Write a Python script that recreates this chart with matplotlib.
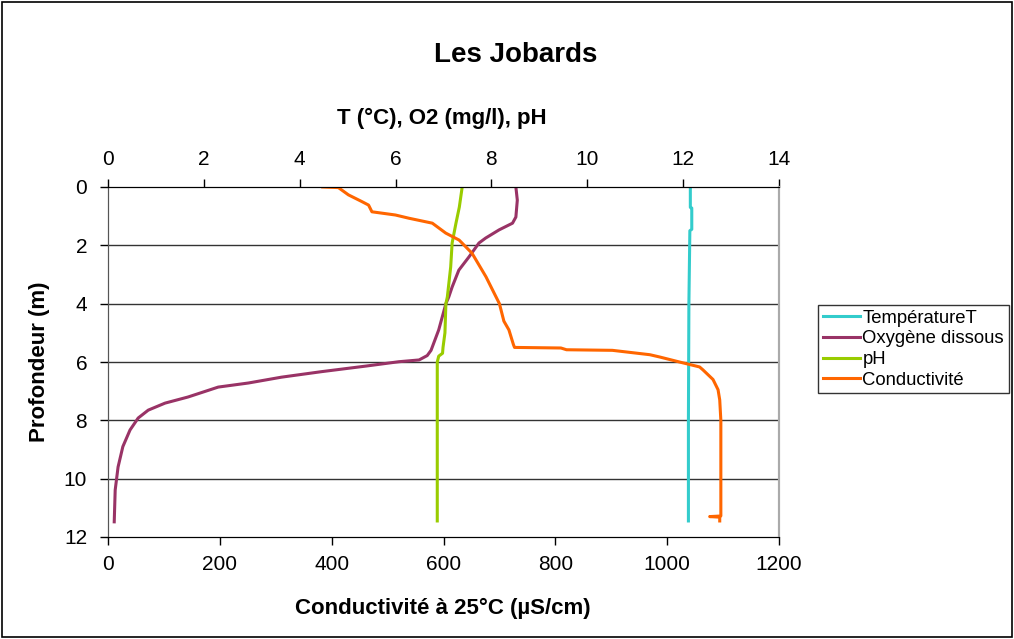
import matplotlib
matplotlib.use("Agg")
import matplotlib.pyplot as plt
from matplotlib.lines import Line2D
from matplotlib.patches import Rectangle

plt.rcParams['font.family'] = ['Liberation Sans', 'DejaVu Sans']

# ---- data ----
temp_depth = [0, 0.70, 0.72, 1.45, 1.50, 4.0, 8.0, 11.45]
temp_val = [12.15, 12.15, 12.18, 12.18, 12.14, 12.12, 12.11, 12.11]

o2_depth = [0, 0.45, 1.03, 1.24, 1.47, 1.75, 1.92, 2.4, 2.85, 3.43, 3.77, 4.0, 4.9,
            5.6, 5.78, 5.93, 5.99, 6.14, 6.33, 6.52, 6.72, 6.86, 7.2, 7.41, 7.65,
            7.92, 8.33, 8.9, 9.6, 10.39, 11.48]
o2_val = [8.51, 8.54, 8.51, 8.44, 8.16, 7.88, 7.74, 7.53, 7.32, 7.18, 7.11, 7.05, 6.9,
          6.74, 6.66, 6.49, 6.07, 5.38, 4.46, 3.62, 2.93, 2.30, 1.67, 1.19, 0.84,
          0.63, 0.46, 0.31, 0.21, 0.15, 0.13]

ph_depth = [0, 0.69, 1.24, 1.92, 2.74, 3.77, 4.0, 5.0, 5.5, 5.7, 5.8, 6.0, 8.0, 11.45]
ph_val = [7.39, 7.33, 7.26, 7.18, 7.15, 7.08, 7.05, 7.03, 6.99, 6.98, 6.90, 6.87, 6.87, 6.87]

cond_depth = [0, 0.02, 0.27, 0.5, 0.62, 0.85, 0.96, 1.07, 1.24, 1.58, 1.82, 2.27, 3.08,
              3.77, 4.0, 4.6, 4.9, 5.4, 5.5, 5.52, 5.58, 5.6, 5.75, 5.83, 6.0, 6.17,
              6.27, 6.6, 6.95, 7.3, 8.0, 11.28, 11.3, 11.32, 11.45]
cond_val = [384, 412, 430, 454, 466, 472, 514, 538, 580, 604, 628, 651, 676,
            694, 700, 708, 717, 725, 727, 810, 820, 902, 969, 987, 1022, 1058,
            1064, 1082, 1091, 1094, 1096, 1096, 1076, 1094, 1094]

series_names = ["TempératureT", "Oxygène dissous", "pH", "Conductivité"]
colors = ["#33CCCC", "#993366", "#99CC00", "#FF6600"]

top_ticks = [0, 2, 4, 6, 8, 10, 12, 14]
bottom_ticks = [0, 200, 400, 600, 800, 1000, 1200]
depth_ticks = [0, 2, 4, 6, 8, 10, 12]

W, H = 1014, 639
fig = plt.figure(figsize=(W / 100, H / 100), dpi=100)

L, R, T, B = 108, 779, 187, 537
ax = fig.add_axes([L / W, 1 - B / H, (R - L) / W, (B - T) / H])
ax2 = ax.twiny()

lw = 2.2
ax2.plot(temp_val, temp_depth, color=colors[0], lw=lw)
ax2.plot(o2_val, o2_depth, color=colors[1], lw=lw)
ax2.plot(ph_val, ph_depth, color=colors[2], lw=lw)
ax.plot(cond_val, cond_depth, color=colors[3], lw=lw)

ax.set_zorder(ax2.get_zorder() + 1)
ax.patch.set_visible(False)

ax.set_xlim(0, 1200)
ax2.set_xlim(0, 14)
ax.set_ylim(12, 0)
ax.set_xticks(bottom_ticks)
ax2.set_xticks(top_ticks)
ax.set_yticks(depth_ticks)

for a in (ax, ax2):
    a.tick_params(labelsize=15, length=6, width=1, direction='out', colors='#000000', pad=7)
ax.tick_params(axis='y', pad=9)
ax.grid(False)
for d in depth_ticks[1:-1]:
    ax2.axhline(d, color='#333333', lw=1.0, zorder=0)

for a in (ax, ax2):
    a.spines['left'].set_color('#555555')
    a.spines['right'].set_color('#aaaaaa')
    a.spines['top'].set_color('#000000')
    a.spines['bottom'].set_color('#000000')
    a.spines['right'].set_linewidth(1.5)

fig.text(516 / W, 1 - 55 / H, "Les Jobards", ha='center', va='center', fontsize=20, fontweight='bold')
fig.text(442 / W, 1 - 118 / H, "T (°C), O2 (mg/l), pH", ha='center', va='center', fontsize=16, fontweight='bold')
fig.text(443 / W, 1 - 608 / H, "Conductivité à 25°C (µS/cm)", ha='center', va='center', fontsize=16, fontweight='bold')
fig.text(40 / W, 1 - 362 / H, "Profondeur (m)", ha='center', va='center', rotation=90, fontsize=16, fontweight='bold')

handles = [Line2D([], [], color=c, lw=2.2) for c in colors]
leg = fig.legend(handles, series_names, loc='upper left',
                 bbox_to_anchor=(818 / W, 1 - 305 / H), fontsize=13.3,
                 frameon=True, fancybox=False, edgecolor='#000000',
                 handlelength=2.0, handletextpad=0.15, borderpad=0.25,
                 labelspacing=0.2, borderaxespad=0)
leg.get_frame().set_linewidth(1.0)

fig.patches.append(Rectangle((2 / W, 2 / H), 1 - 4 / W, 1 - 4 / H, transform=fig.transFigure,
                             fill=False, edgecolor='#000000', lw=1.2))

fig.savefig("out.png", dpi=100)
